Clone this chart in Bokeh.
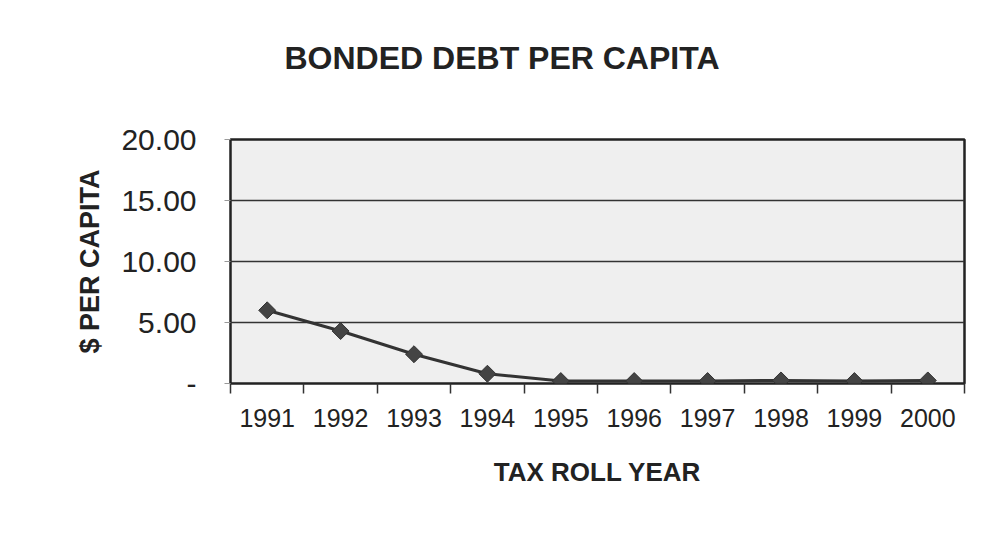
import math
from bokeh.plotting import figure
from bokeh.models import FixedTicker, CustomJSTickFormatter, Range1d, Title
from bokeh.embed import file_html
from bokeh.resources import INLINE

years = [1991, 1992, 1993, 1994, 1995, 1996, 1997, 1998, 1999, 2000]
debt_per_capita = [6.0, 4.3, 2.4, 0.8, 0.2, 0.2, 0.2, 0.25, 0.2, 0.25]
y_ticks = [0, 5, 10, 15, 20]
title_text = "BONDED DEBT PER CAPITA"
x_label = "TAX ROLL YEAR"
y_label = "$ PER CAPITA"

FONT = "Liberation Sans"

p = figure(width=966, height=519, output_backend="svg", toolbar_location=None,
           x_range=Range1d(years[0] - 0.5, years[-1] + 0.5),
           y_range=Range1d(y_ticks[0], y_ticks[-1]),
           min_border_left=230, min_border_right=2,
           min_border_top=139, min_border_bottom=136)

p.title = None
# spacer panel between the frame and the title
spacer = Title(text=" ", text_font=FONT, text_font_size="10px", standoff=46)
p.add_layout(spacer, "above")
t = Title(text=title_text, align="left", offset=54, text_font=FONT, text_font_size="32px",
          text_font_style="bold", text_color="#222222", standoff=10)
p.add_layout(t, "above")

p.background_fill_color = "#efefef"
p.border_fill_color = "white"
p.outline_line_color = "#222222"
p.outline_line_width = 2.5

# grid
p.xgrid.grid_line_color = None
p.ygrid.ticker = FixedTicker(ticks=y_ticks)
p.ygrid.grid_line_color = "#333333"
p.ygrid.grid_line_width = 1.5

# y axis
ya = p.yaxis[0]
ya.ticker = FixedTicker(ticks=y_ticks)
ya.formatter = CustomJSTickFormatter(code="return tick == 0 ? '-' : tick.toFixed(2);")
ya.axis_line_color = None
ya.major_tick_out = 6
ya.major_tick_in = 0
ya.major_tick_line_color = "#999999"
ya.minor_tick_line_color = None
ya.major_label_standoff = 28
ya.major_label_text_font = FONT
ya.major_label_text_font_size = "30px"
ya.major_label_text_color = "#222222"
ya.axis_label = y_label
ya.axis_label_text_font = FONT
ya.axis_label_text_font_size = "27px"
ya.axis_label_text_font_style = "bold"
ya.axis_label_text_color = "#222222"
ya.axis_label_standoff = 13

# x axis
xa = p.xaxis[0]
xa.ticker = FixedTicker(ticks=years, minor_ticks=[y - 0.5 for y in years] + [years[-1] + 0.5])
xa.formatter = CustomJSTickFormatter(code="return tick.toFixed(0);")
xa.axis_line_color = None
xa.major_tick_out = 0
xa.major_tick_in = 0
xa.minor_tick_out = 10
xa.minor_tick_in = 0
xa.minor_tick_line_color = "#333333"
xa.minor_tick_line_width = 1.5
xa.major_label_standoff = 15
xa.major_label_text_font = FONT
xa.major_label_text_font_size = "25px"
xa.major_label_text_color = "#222222"
xa.axis_label = x_label
xa.axis_label_text_font = FONT
xa.axis_label_text_font_size = "26px"
xa.axis_label_text_font_style = "bold"
xa.axis_label_text_color = "#222222"
xa.axis_label_standoff = 27

p.line(years, debt_per_capita, line_color="#333333", line_width=3)
p.scatter(years, debt_per_capita, marker="square", size=12, angle=math.pi / 4,
          fill_color="#444444", line_color="#333333", line_width=1)

open("out.html", "w").write(file_html(p, INLINE))
